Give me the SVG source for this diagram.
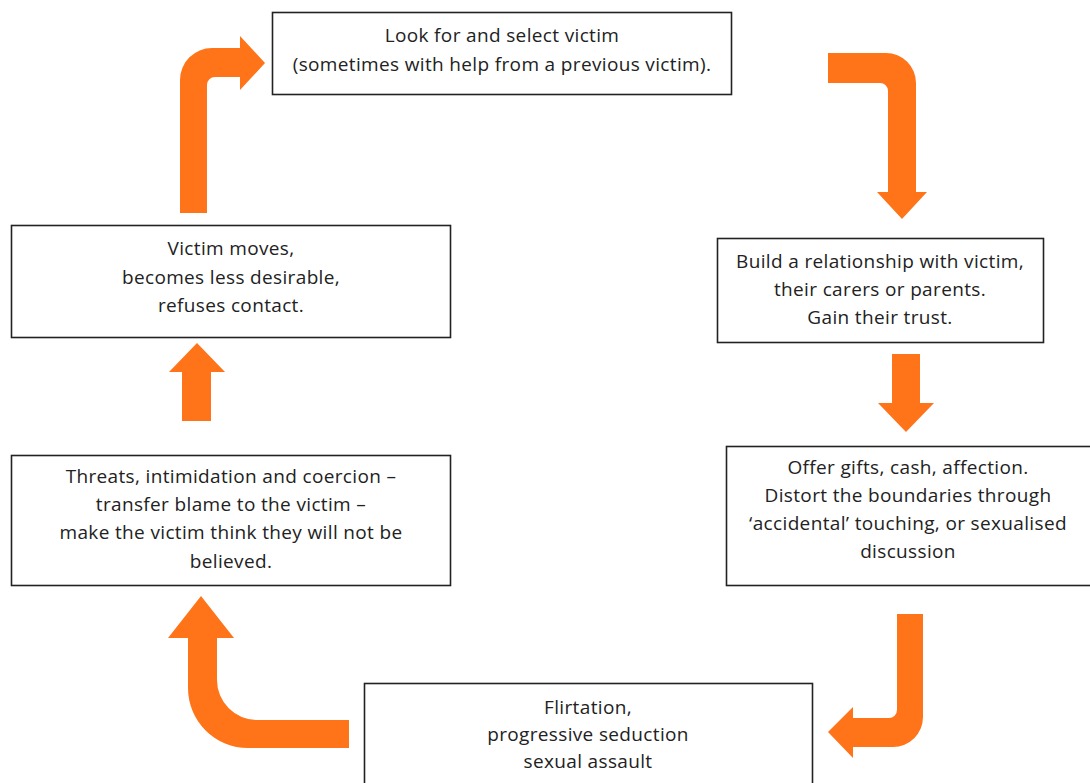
<svg xmlns="http://www.w3.org/2000/svg" width="1090" height="783" viewBox="0 0 1090 783">
<style>
.box{fill:#fff;stroke:#222;stroke-width:1.6}
.t{font-family:"Open Sans","Liberation Sans",Arial,sans-serif;font-size:19px;letter-spacing:0.35px;fill:#222;text-anchor:middle}
.arr{fill:#FF7418}
</style>
<rect width="1090" height="783" fill="#fff"/>
<g id="connectors">
<path class="arr" d="M180,213 L180,80 A32,32 0 0 1 212,48 L240,48 L240,36 L265,63 L240,90 L240,77 L215,77 A8,8 0 0 0 207,85 L207,213 Z"/>
<path class="arr" d="M828,53 L886,53 A30,30 0 0 1 916,83 L916,192 L927,192 L902,219 L877,192 L888,192 L888,91 A8,8 0 0 0 880,83 L828,83 Z"/>
<path class="arr" d="M892,354 L920,354 L920,403 L934,403 L906,432 L878,403 L892,403 Z"/>
<path class="arr" d="M897,614 L923,614 L923,717 A30,30 0 0 1 893,747 L853,747 L853,758 L828,732 L853,707 L853,718 L889,718 A8,8 0 0 0 897,710 Z"/>
<path class="arr" d="M349,748 L248,748 A60,60 0 0 1 188,688 L188,638 L168,638 L201,596 L234,638 L217,638 L217,680 A40,40 0 0 0 257,720 L349,720 Z"/>
<path class="arr" d="M182,421 L211,421 L211,372 L225,372 L197,343 L169,372 L182,372 Z"/>
</g>
<g id="n1">
<rect class="box" x="272.5" y="12.5" width="459" height="82"/>
<text class="t" x="502" y="42">Look for and select victim</text>
<text class="t" x="502" y="71">(sometimes with help from a previous victim).</text>
</g>
<g id="n2">
<rect class="box" x="717.5" y="238.5" width="326" height="104"/>
<text class="t" x="880" y="268">Build a relationship with victim,</text>
<text class="t" x="880" y="296">their carers or parents.</text>
<text class="t" x="880" y="324">Gain their trust.</text>
</g>
<g id="n3">
<rect class="box" x="726.5" y="446.5" width="370" height="139"/>
<text class="t" x="908" y="474">Offer gifts, cash, affection.</text>
<text class="t" x="908" y="502">Distort the boundaries through</text>
<text class="t" x="908" y="530">‘accidental’  touching, or sexualised</text>
<text class="t" x="908" y="558">discussion</text>
</g>
<g id="n4">
<rect class="box" x="364.5" y="683.5" width="448" height="110"/>
<text class="t" x="588" y="714">Flirtation,</text>
<text class="t" x="588" y="741">progressive seduction</text>
<text class="t" x="588" y="768">sexual assault</text>
</g>
<g id="n5">
<rect class="box" x="11.5" y="455.5" width="439" height="130"/>
<text class="t" x="231" y="483">Threats, intimidation and coercion –</text>
<text class="t" x="231" y="511">transfer blame to the victim –</text>
<text class="t" x="231" y="539">make the victim  think they will not be</text>
<text class="t" x="231" y="568">believed.</text>
</g>
<g id="n6">
<rect class="box" x="11.5" y="225.5" width="439" height="112"/>
<text class="t" x="231" y="255">Victim moves,</text>
<text class="t" x="231" y="284">becomes less desirable,</text>
<text class="t" x="231" y="312">refuses contact.</text>
</g>
</svg>
